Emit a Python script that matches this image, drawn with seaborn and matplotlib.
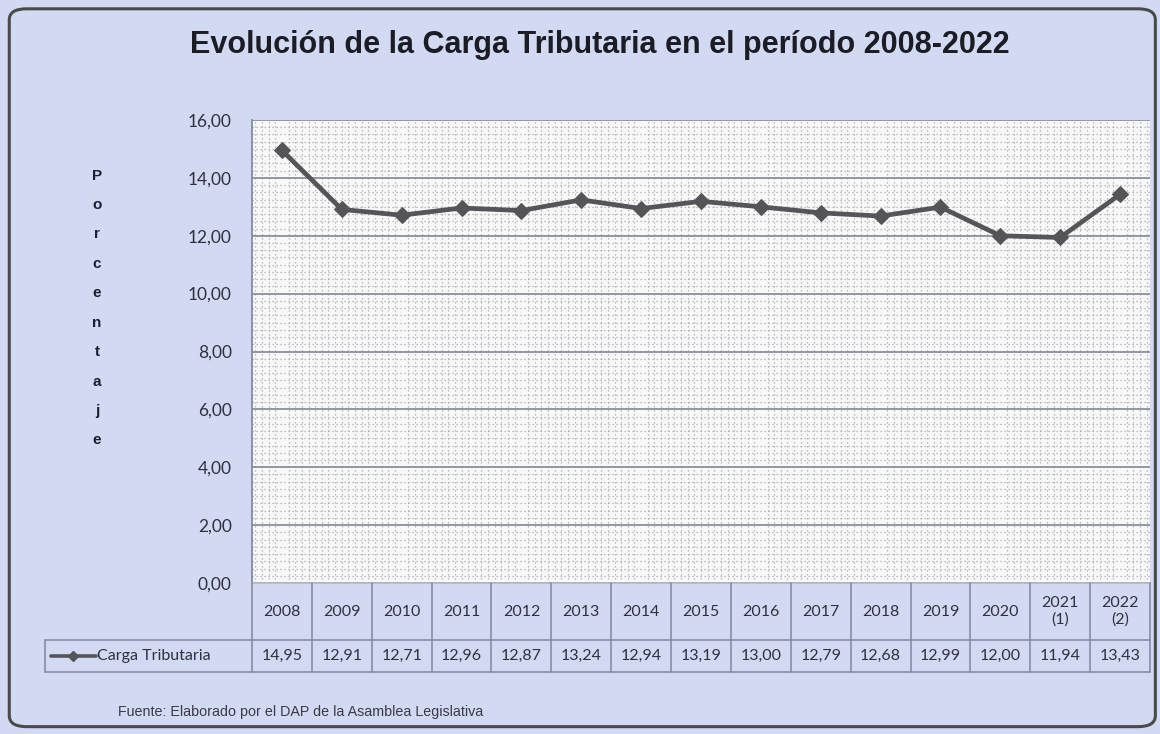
import matplotlib
matplotlib.use("Agg")
import matplotlib.pyplot as plt
import matplotlib.ticker as mticker
from matplotlib.patches import FancyBboxPatch
import numpy as np
import pandas as pd
import seaborn as sns

years = ["2008", "2009", "2010", "2011", "2012", "2013", "2014", "2015",
         "2016", "2017", "2018", "2019", "2020", "2021\n(1)", "2022\n(2)"]
carga = [14.95, 12.91, 12.71, 12.96, 12.87, 13.24, 12.94, 13.19,
         13.00, 12.79, 12.68, 12.99, 12.00, 11.94, 13.43]
series_name = "Carga Tributaria"
title = "Evolución de la Carga Tributaria en el período 2008-2022"
ylabel = "Porcentaje"
source = "Fuente: Elaborado por el DAP de la Asamblea Legislativa"

sns.set_theme(style="white")
plt.rcParams["font.family"] = ["Lato", "DejaVu Sans"]

bg = "#d2d9f2"
line_color = "#555559"
grid_color = "#8a8f9c"
table_color = "#7f889e"
text_color = "#2f3140"

df = pd.DataFrame({"pos": np.arange(len(years)), "valor": carga})

fig = plt.figure(figsize=(11.6, 7.34), dpi=100)
fig.patch.set_facecolor(bg)
frame = FancyBboxPatch((0.008, 0.01), 0.988, 0.978, boxstyle="round,pad=0,rounding_size=0.015",
                       transform=fig.transFigure, facecolor="none", edgecolor="#4a4a4a", linewidth=2.2)
fig.patches.append(frame)

left, right = 252 / 1160, 1150 / 1160
bottom, top = 1 - 583 / 734, 1 - 120 / 734
ax = fig.add_axes([left, bottom, right - left, top - bottom])
ax.set_facecolor("#f8f8f8")

# fine dotted pattern of the plot area
ax.xaxis.set_minor_locator(mticker.MultipleLocator(1 / 9))
ax.yaxis.set_minor_locator(mticker.MultipleLocator(0.25))
ax.grid(which="minor", color="#a9a9a9", linestyle=(0, (1, 2.2)), linewidth=0.9)
ax.grid(which="major", axis="y", color=grid_color, linewidth=1.3)
ax.grid(which="major", axis="x", visible=False)

sns.lineplot(data=df, x="pos", y="valor", ax=ax, color=line_color, linewidth=3.4,
             marker="D", markersize=8, markeredgecolor=line_color, zorder=5)

ax.set_xlim(-0.5, len(years) - 0.5)
ax.set_ylim(0, 16)
ax.yaxis.set_major_locator(mticker.MultipleLocator(2))
ax.yaxis.set_major_formatter(mticker.FuncFormatter(lambda v, p: f"{v:.2f}".replace(".", ",")))
ax.tick_params(axis="y", which="both", length=0, labelsize=12.5, labelcolor=text_color, pad=14.5)
ax.tick_params(axis="x", which="both", length=0, labelbottom=False)
ax.set_xlabel("")
ax.set_ylabel("")
for s in ["top", "right"]:
    ax.spines[s].set_visible(False)
ax.spines["left"].set_color(table_color)
ax.spines["bottom"].set_color("#b5b9c4")

# data table under the chart
tax = fig.add_axes([left, 1 - 672 / 734, right - left, (672 - 583) / 734])
tax.set_xlim(-0.5, len(years) - 0.5)
tax.set_ylim(0, 89)
tax.axis("off")
row_split = 89 - 57
for i, (yr, v) in enumerate(zip(years, carga)):
    tax.text(i, row_split + 57 / 2, yr, ha="center", va="center", fontsize=11.5,
             color=text_color, linespacing=1.25)
    tax.text(i, row_split / 2, f"{v:.2f}".replace(".", ","), ha="center", va="center",
             fontsize=11.5, color=text_color)
for i in range(len(years) + 1):
    tax.plot([i - 0.5, i - 0.5], [0, 89], color=table_color, linewidth=1.1, clip_on=False)
label_x0 = -0.5 - (252 - 45) / ((1150 - 252) / len(years))
tax.plot([label_x0, len(years) - 0.5], [row_split, row_split], color=table_color, linewidth=1.1, clip_on=False)
tax.plot([label_x0, len(years) - 0.5], [0, 0], color=table_color, linewidth=1.1, clip_on=False)
tax.plot([label_x0, label_x0], [0, row_split], color=table_color, linewidth=1.1, clip_on=False)
key_x = np.array([label_x0 + 0.1, label_x0 + 0.85])
tax.plot(key_x, [row_split / 2] * 2, color=line_color, linewidth=2.6, clip_on=False)
tax.plot([key_x.mean()], [row_split / 2], marker="D", markersize=5.5, color=line_color, clip_on=False)
tax.text(key_x[1] + 0.02, row_split / 2, series_name, ha="left", va="center",
         fontsize=11.5, color=text_color, clip_on=False)

fig.text(600 / 1160, 1 - 45 / 734, title, ha="center", va="center", fontsize=22,
         fontweight="bold", color="#1c1c24", family=["Liberation Sans", "DejaVu Sans"])
fig.text(97 / 1160, 1 - 308 / 734, "\n".join(ylabel), ha="center", va="center", fontsize=11,
         fontweight="bold", color="#1c2030", linespacing=2.4, family=["Liberation Sans", "DejaVu Sans"])
fig.text(118 / 1160, 1 - 712 / 734, source, ha="left", va="center", fontsize=10.3,
         color="#3a3a48", family=["Liberation Sans", "DejaVu Sans"])

fig.savefig("out.png", dpi=100, facecolor=fig.get_facecolor())
